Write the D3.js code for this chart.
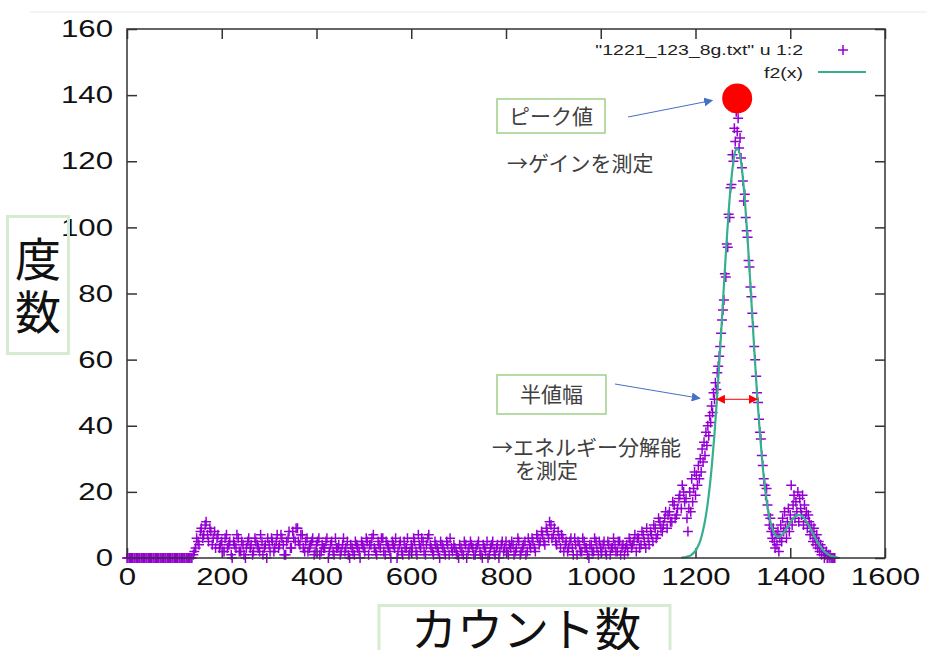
<!DOCTYPE html>
<html><head><meta charset="utf-8">
<script src="https://cdn.jsdelivr.net/npm/d3@7/dist/d3.min.js"></script>
<style>body{margin:0;background:#fff;} svg{display:block;}</style>
</head><body>
<svg id="chart" width="927" height="650"></svg>
<script>
// ---------- data ----------
const xTicks = [0, 200, 400, 600, 800, 1000, 1200, 1400, 1600];
const yTicks = [0, 20, 40, 60, 80, 100, 120, 140, 160];

// histogram counts, channels 0..1175 every 5 channels
const lowStart = 0, lowStep = 5;
const lowCounts = [
  0,0,0,0,0,0,0,0,0,0,0,0,0,0,0,0,0,0,0,0,              // 0
  0,0,0,0,0,0,0,0,1,3,5,8,6,10,7,9,4,8,6,3,             // 100
  5,2,7,4,1,5,3,6,2,4,0,5,3,1,6,4,2,5,3,0,              // 200
  4,6,2,5,3,7,4,1,6,3,8,5,9,4,7,2,6,3,5,1,              // 300
  4,6,2,3,5,0,4,2,6,3,1,4,2,5,0,3,1,4,2,5,              // 400
  3,6,1,4,7,2,5,3,6,1,4,2,5,3,0,4,2,5,3,1,              // 500
  4,6,2,7,3,5,1,6,4,2,5,3,0,4,2,5,1,3,4,2,              // 600
  0,3,1,4,2,5,3,1,4,2,0,3,5,1,4,2,3,0,4,2,              // 700
  5,1,3,4,2,6,1,3,5,2,4,6,3,7,4,8,5,9,6,10,             // 800
  7,5,8,3,6,4,2,5,3,6,1,4,2,5,3,0,4,2,5,1,              // 900
  3,4,2,5,1,3,4,2,5,3,1,4,6,3,5,2,6,4,7,3,              // 1000
  6,8,5,9,7,11,8,12,9,14,11,16,13,18,15,20              // 1100
];
// histogram counts, channels 2..1177 every 5 channels (interleaved)
const lowStart2 = 2, lowStep2 = 5;
const lowCounts2 = [
  0,0,0,0,0,0,0,0,0,0,0,0,0,0,0,0,0,0,0,0,              // 2
  0,0,0,0,0,0,0,0,2,6,4,9,7,11,5,8,6,3,7,4,             // 102
  2,6,3,5,0,4,7,2,5,1,3,6,4,2,5,3,7,1,4,6,              // 202
  2,5,3,7,4,6,1,5,8,3,6,9,5,7,3,5,2,4,6,2,              // 302
  5,1,4,3,6,2,5,1,3,4,2,6,3,1,4,2,5,3,0,4,              // 402
  2,5,4,6,3,1,4,6,2,5,3,0,4,6,2,5,1,3,6,2,              // 502
  3,5,1,4,6,2,4,7,3,1,4,2,5,3,1,4,6,2,3,1,              // 602
  4,2,5,0,3,4,1,3,5,1,4,2,0,3,5,1,4,2,5,3,              // 702
  2,4,5,1,3,5,2,4,1,6,3,5,2,6,5,7,4,8,11,6,             // 802
  9,4,6,7,2,5,3,6,1,4,5,2,6,3,1,4,2,6,3,5,              // 902
  2,5,1,4,3,6,2,5,1,4,3,2,5,4,7,6,3,8,5,9,              // 1002
  4,7,10,6,12,9,10,14,13,11,17,12,15,19,22,17           // 1102
];
// histogram counts, channels 1180..1494 every 2 channels
const peakStart = 1180, peakStep = 2;
const peakCounts = [
  18,12,8,15,20,14,24,17,21,26,          // 1180
  19,25,22,28,24,30,26,33,29,35,         // 1200
  31,38,34,40,37,43,41,46,44,50,         // 1220
  48,53,51,56,58,61,64,68,72,75,         // 1240
  78,86,85,95,94,104,103,112,113,122,    // 1260
  120,130,126,135,129,133,124,127,121,118, // 1280
  114,108,110,103,99,97,90,88,82,79,     // 1300
  74,70,64,60,55,50,47,42,38,36,         // 1320
  31,28,24,22,19,21,16,13,10,12,         // 1340
  8,6,9,5,3,7,4,8,2,6,                   // 1360
  10,5,12,8,14,9,6,11,15,8,              // 1380
  13,22,10,16,19,12,17,14,20,11,         // 1400
  18,15,13,19,10,16,12,14,9,13,          // 1420
  11,7,10,8,5,9,6,4,7,3,                 // 1440
  5,2,4,1,3,2,0,1,2,0,                   // 1460
  1,0,1,0,0,0,0,0                        // 1480
];
// fitted curve f2(x), 1170..1500 every 5
const fitStart = 1170, fitStep = 5;
const fitValues = [
  0.1,0.2,0.3,0.5,0.8,1.4,2.2,3.5,5.2,7.8,
  11.2,15.7,21.5,28.8,37.4,47.4,58.5,70.3,82.5,94.2,
  104.8,113.6,119.9,123.4,123.7,120.9,115.0,106.7,96.4,84.9,
  72.8,60.8,49.6,39.5,30.7,23.3,17.5,13.0,9.9,7.9,
  6.7,6.4,6.7,7.4,8.4,9.6,10.8,11.7,12.5,13.0,
  13.0,12.6,11.9,10.8,9.6,8.2,6.8,5.4,4.2,3.2,
  2.3,1.6,1.1,0.7,0.5,0.3,0.2
];
const seriesNames = ['"1221_123_8g.txt" u 1:2', 'f2(x)'];
const peakPoint = {x: 1288, y: 139};
const fwhm = {level: 48, left: 1245, right: 1330};
const xLabel = "カウント数";
const yLabel = ["度", "数"];
const noteBoxes = ["ピーク値", "半値幅"];
const noteTexts = [["→ゲインを測定"], ["→エネルギー分解能", "を測定"]];

// ---------- drawing ----------
const svg = d3.select("#chart");
const x = d3.scaleLinear().domain([0, 1600]).range([127, 885]);
const y = d3.scaleLinear().domain([0, 160]).range([558, 29]);
const purple = "#9400d3", green = "#35b08e";
const TS = 1.3;
const fmt = d3.format("d");

svg.append("line").attr("x1", 30).attr("x2", 927).attr("y1", 12).attr("y2", 12)
  .attr("stroke", "#f0f0f0").attr("stroke-width", 1.5);

function styleAxis(g) {
  g.select(".domain").remove();
  g.selectAll(".tick line").attr("stroke", "#333").attr("stroke-width", 1.5);
  g.selectAll(".tick text").attr("fill", "#111")
    .style("font-family", "'Liberation Sans', Arial, sans-serif").style("font-size", "24px");
}
const gx = svg.append("g").attr("transform", `translate(0,${y(0)})`)
  .call(d3.axisBottom(x).tickValues(xTicks).tickFormat(fmt).tickSize(-10).tickSizeOuter(0).tickPadding(10));
styleAxis(gx);
gx.selectAll(".tick text").attr("transform", `scale(${TS},1)`);
const gy = svg.append("g").attr("transform", `translate(${x(0)},0)`)
  .call(d3.axisLeft(y).tickValues(yTicks).tickFormat(fmt).tickSize(-10).tickSizeOuter(0).tickPadding(14));
styleAxis(gy);
gy.selectAll(".tick text").attr("transform", `translate(-14,0) scale(${TS},1) translate(14,0)`);
const gt = svg.append("g").attr("transform", `translate(0,${y(160)})`)
  .call(d3.axisTop(x).tickValues(xTicks).tickSize(-10).tickSizeOuter(0).tickFormat(""));
styleAxis(gt);
const gr = svg.append("g").attr("transform", `translate(${x(1600)},0)`)
  .call(d3.axisRight(y).tickValues(yTicks).tickSize(-10).tickSizeOuter(0).tickFormat(""));
styleAxis(gr);

// points
const pts = lowCounts.map((v, i) => [lowStart + i * lowStep, v])
  .concat(lowCounts2.map((v, i) => [lowStart2 + i * lowStep2, v]))
  .concat(peakCounts.map((v, i) => [peakStart + i * peakStep, v]));
const plus = "M-5,0H5M0,-5V5";
svg.append("g").selectAll("path").data(pts).join("path")
  .attr("transform", d => `translate(${x(d[0])},${y(d[1])})`)
  .attr("d", plus).attr("stroke", purple).attr("stroke-width", 1.5).attr("fill", "none");

// fit curve
const fit = fitValues.map((v, i) => [fitStart + i * fitStep, v]);
svg.append("path").datum(fit)
  .attr("d", d3.line().x(d => x(d[0])).y(d => y(d[1])).curve(d3.curveMonotoneX))
  .attr("fill", "none").attr("stroke", green).attr("stroke-width", 2.2);

// frame
svg.append("rect").attr("x", x(0)).attr("y", y(160))
  .attr("width", x(1600) - x(0)).attr("height", y(0) - y(160))
  .attr("fill", "none").attr("stroke", "#333").attr("stroke-width", 1.5);

// legend
const lg = svg.append("g").style("font-family", "'Liberation Sans', Arial, sans-serif")
  .style("font-size", "15px").attr("fill", "#222");
lg.append("text").attr("transform", `translate(803,55) scale(${TS},1)`)
  .attr("text-anchor", "end").text(seriesNames[0]);
lg.append("text").attr("transform", `translate(803,78) scale(${TS},1)`)
  .attr("text-anchor", "end").text(seriesNames[1]);
lg.append("path").attr("transform", "translate(843,50)").attr("d", plus)
  .attr("stroke", purple).attr("stroke-width", 1.5);
lg.append("line").attr("x1", 818).attr("x2", 866).attr("y1", 72).attr("y2", 72)
  .attr("stroke", green).attr("stroke-width", 2.2);

// markers for arrows
const defs = svg.append("defs");
function mk(id, color) {
  defs.append("marker").attr("id", id).attr("viewBox", "0 0 10 10").attr("refX", 9).attr("refY", 5)
    .attr("markerWidth", 9).attr("markerHeight", 9).attr("markerUnits", "userSpaceOnUse")
    .attr("orient", "auto-start-reverse")
    .append("path").attr("d", "M0,0L10,5L0,10Z").attr("fill", color);
}
mk("ab", "#4472c4"); mk("ar", "#ff0000");

// red peak dot
svg.append("circle").attr("cx", x(peakPoint.x)).attr("cy", y(peakPoint.y)).attr("r", 15).attr("fill", "#ff0000");

// FWHM red arrow
svg.append("line").attr("x1", x(fwhm.left)).attr("x2", x(fwhm.right))
  .attr("y1", y(fwhm.level)).attr("y2", y(fwhm.level))
  .attr("stroke", "#ff0000").attr("stroke-width", 1)
  .attr("marker-start", "url(#ar)").attr("marker-end", "url(#ar)");

// blue arrows
svg.append("line").attr("x1", 628).attr("y1", 117).attr("x2", x(peakPoint.x) - 25).attr("y2", y(peakPoint.y) + 2)
  .attr("stroke", "#4472c4").attr("stroke-width", 1).attr("marker-end", "url(#ab)");
svg.append("line").attr("x1", 615).attr("y1", 384).attr("x2", x(fwhm.left) - 17).attr("y2", y(fwhm.level) - 1)
  .attr("stroke", "#4472c4").attr("stroke-width", 1).attr("marker-end", "url(#ab)");

// note boxes
const jp = "'Noto Sans CJK JP', 'Noto Sans', sans-serif";
const boxes = [{x: 497, y: 99, w: 108, h: 34}, {x: 497, y: 375, w: 109, h: 39}];
boxes.forEach((b, i) => {
  svg.append("rect").attr("x", b.x).attr("y", b.y).attr("width", b.w).attr("height", b.h)
    .attr("fill", "#fff").attr("stroke", "#9fcf86").attr("stroke-width", 1.5);
  svg.append("text").attr("x", b.x + b.w / 2).attr("y", b.y + b.h / 2).attr("dy", "0.36em")
    .attr("text-anchor", "middle").style("font-family", jp).style("font-size", "21px")
    .attr("fill", "#404040").text(noteBoxes[i]);
});
const notePos = [[{x: 507, y: 171}], [{x: 492, y: 455}, {x: 515, y: 478}]];
noteTexts.forEach((lines, i) => {
  const t = svg.append("text").style("font-family", jp).style("font-size", "21px").attr("fill", "#404040");
  lines.forEach((s, j) => t.append("tspan").attr("x", notePos[i][j].x).attr("y", notePos[i][j].y).text(s));
});

// axis label boxes
svg.append("rect").attr("x", 7.5).attr("y", 216.5).attr("width", 61).attr("height", 137)
  .attr("fill", "none").attr("stroke", "#d6ecd0").attr("stroke-width", 3);
const yl = svg.append("text").attr("text-anchor", "middle").style("font-family", jp)
  .style("font-size", "46px").attr("fill", "#111");
yLabel.forEach((c, i) => yl.append("tspan").attr("x", 38).attr("y", 259 + i * 53).attr("dy", "0.36em").text(c));
svg.append("rect").attr("x", 379).attr("y", 605.5).attr("width", 291).attr("height", 60)
  .attr("fill", "none").attr("stroke", "#d6ecd0").attr("stroke-width", 3);
svg.append("text").attr("x", 526).attr("y", 629).attr("dy", "0.36em").attr("text-anchor", "middle")
  .style("font-family", jp).style("font-size", "46px").attr("fill", "#111").text(xLabel);
</script>
</body></html>
